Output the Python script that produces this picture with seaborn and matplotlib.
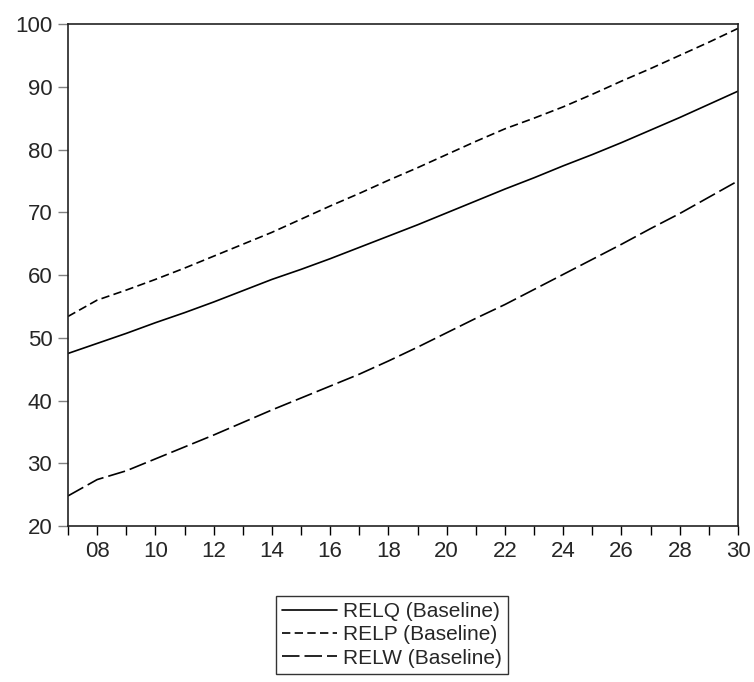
import seaborn as sns
import matplotlib.pyplot as plt
import pandas as pd
import numpy as np

# datos (escenario base)
years = list(range(2007, 2031))
relq = [47.5, 49.1, 50.7, 52.4, 54.0, 55.7, 57.5, 59.3, 60.9, 62.6, 64.4, 66.2,
        68.0, 69.9, 71.8, 73.7, 75.5, 77.4, 79.2, 81.1, 83.1, 85.1, 87.2, 89.3]
relp = [53.4, 56.0, 57.6, 59.3, 61.1, 63.0, 64.9, 66.8, 68.9, 71.0, 73.0, 75.1,
        77.1, 79.2, 81.3, 83.3, 85.0, 86.8, 88.8, 90.9, 92.9, 95.0, 97.1, 99.3]
relw = [24.8, 27.4, 28.8, 30.7, 32.6, 34.5, 36.5, 38.5, 40.4, 42.3, 44.2, 46.3,
        48.5, 50.8, 53.1, 55.3, 57.7, 60.1, 62.5, 64.9, 67.4, 69.8, 72.4, 75.0]
names = ["RELQ (Baseline)", "RELP (Baseline)", "RELW (Baseline)"]

datos = pd.DataFrame({
    "year": years * 3,
    "value": relq + relp + relw,
    "serie": [names[0]] * len(years) + [names[1]] * len(years) + [names[2]] * len(years),
})

sns.set_style("white")
plt.rcParams["font.family"] = ["Liberation Sans", "DejaVu Sans"]

fig = plt.figure(figsize=(7.54, 6.82), dpi=100)
ax = fig.add_axes([0.0902, 0.2287, 0.8886, 0.7361])

sns.lineplot(data=datos, x="year", y="value", style="serie", style_order=names,
             dashes={names[0]: "", names[1]: (5, 2.6), names[2]: (10.5, 3)},
             color="black", linewidth=1.2, legend=False, ax=ax)

ax.set_xlim(2007, 2030)
ax.set_ylim(20, 100)
ax.set_xlabel("")
ax.set_ylabel("")

ax.set_xticks(years)
ax.set_xticklabels([f"{y % 100:02d}" if y % 2 == 0 else "" for y in years])
ax.set_yticks(np.arange(20, 101, 10))

ax.tick_params(axis="x", direction="out", length=6.5, width=1, color="black",
               labelsize=16, pad=4.5, bottom=True)
ax.tick_params(axis="y", direction="out", length=7, width=1, color="#808080",
               labelsize=16, pad=4.3, left=True)

for s in ax.spines.values():
    s.set_color("#222222")
    s.set_linewidth(1.2)

lineas = ax.get_lines()[:3]
fig.legend(lineas, names, loc="upper center", bbox_to_anchor=(0.52, 0.126),
           fontsize=15, frameon=True, fancybox=False, edgecolor="black",
           handlelength=2.6, handletextpad=0.3, labelspacing=0.2,
           borderpad=0.3, borderaxespad=0)

plt.savefig("out.png", dpi=100)
